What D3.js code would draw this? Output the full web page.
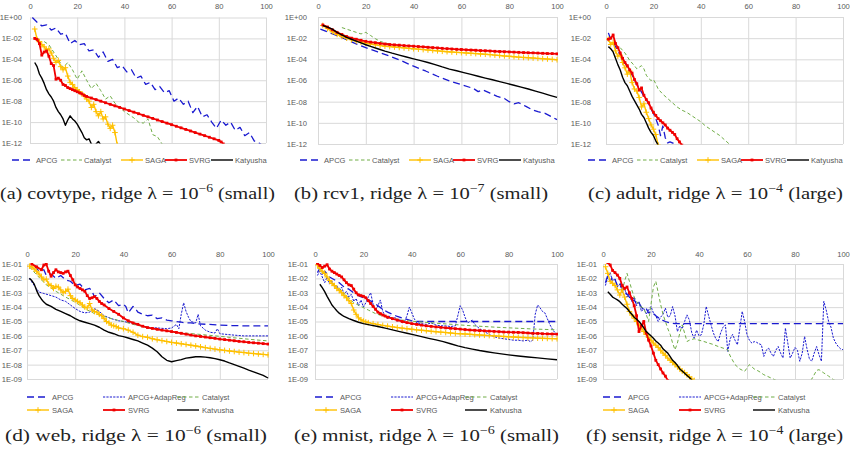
<!DOCTYPE html>
<html><head><meta charset="utf-8">
<script src="https://cdn.jsdelivr.net/npm/d3@7"></script>
<style>body{margin:0;background:#fff}svg{display:block}</style>
</head><body>
<svg id="c" width="850" height="456"></svg>
<script>
// ---------- DATA (values are log10 of objective gap) ----------
const X_TICKS = [0, 20, 40, 60, 80, 100];
const Y_TICKS_TOP = [0, -2, -4, -6, -8, -10, -12];
const Y_TICKS_BOT = [-1, -2, -3, -4, -5, -6, -7, -8, -9];
const LEGEND_TOP = ["APCG", "Catalyst", "SAGA", "SVRG", "Katyusha"];
const LEGEND_BOT = ["APCG", "APCG+AdapReg", "Catalyst", "SAGA", "SVRG", "Katyusha"];
const CAPTIONS = [
  ["(a) covtype, ridge λ = 10", "−6", " (small)"],
  ["(b) rcv1, ridge λ = 10", "−7", " (small)"],
  ["(c) adult, ridge λ = 10", "−4", " (large)"],
  ["(d) web, ridge λ = 10", "−6", " (small)"],
  ["(e) mnist, ridge λ = 10", "−6", " (small)"],
  ["(f) sensit, ridge λ = 10", "−4", " (large)"]
];

// (a) covtype
const aAPCG = [[1,0],[3,-0.45],[5,-0.8],[7,-0.7],[9,-1.2],[11,-1.0],[13,-1.6],[15,-1.5],[17,-2.5],[19,-2.2],[21,-2.6],[23,-2.5],[25,-3.2],[27,-3.1],[29,-3.8],[31,-3.3],[33,-4.2],[35,-4.0],[37,-4.8],[39,-4.6],[41,-5.2],[43,-5.0],[45,-5.8],[47,-5.6],[49,-6.4],[51,-6.2],[53,-6.9],[55,-6.6],[57,-7.2],[59,-7.0],[61,-8.0],[63,-7.7],[65,-8.3],[67,-8.0],[69,-9.1],[71,-8.5],[73,-9.5],[75,-9.3],[77,-10.0],[79,-10.6],[81,-9.8],[83,-10.3],[85,-10.0],[87,-10.8],[89,-10.5],[91,-11.3],[93,-11.0],[95,-11.8],[97,-12.0],[99,-12.3]];
const aCatalyst = [[6,-2.3],[8,-2.6],[10,-3.3],[12,-4.0],[14,-4.8],[16,-4.3],[18,-5.0],[20,-5.9],[22,-5.1],[24,-6.0],[26,-6.8],[28,-6.3],[30,-7.0],[32,-7.8],[34,-7.5],[36,-8.2],[38,-8.6],[40,-9.0],[42,-9.3],[44,-9.6],[46,-10.0],[48,-10.1],[50,-9.7],[52,-11.2],[54,-11.4],[56,-12.1]];
const aSAGA = [[2,-1.1],[3,-2.1],[4,-2.3],[5,-2.6],[6,-2.8],[7,-3.1],[8,-3.0],[9,-3.4],[10,-3.9],[11,-4.3],[12,-4.1],[13,-4.7],[14,-5.0],[15,-4.8],[16,-5.6],[17,-6.2],[18,-6.4],[19,-6.7],[20,-6.9],[21,-7.1],[22,-7.3],[23,-7.5],[24,-7.8],[25,-8.0],[26,-8.6],[27,-8.3],[28,-9.0],[29,-9.4],[30,-9.0],[31,-9.7],[32,-9.5],[33,-10.2],[34,-10.6],[35,-10.3],[36,-11.0],[37,-12.2]];
const aSVRG = [[2,-2.0],[3,-2.1],[4,-2.5],[5,-3.6],[6,-3.3],[7,-3.2],[8,-3.7],[9,-4.4],[10,-4.6],[11,-5.9],[12,-5.8],[13,-6.0],[14,-6.4],[15,-6.5],[16,-6.7],[17,-6.8],[18,-6.9],[19,-7.0],[20,-7.1],[21,-7.2],[22,-7.3],[23,-7.45],[24,-7.55],[26,-7.7],[28,-7.85],[30,-8.0],[32,-8.15],[34,-8.3],[36,-8.45],[38,-8.6],[40,-8.75],[42,-8.9],[44,-9.05],[46,-9.2],[48,-9.35],[50,-9.5],[52,-9.65],[54,-9.8],[56,-9.95],[58,-10.1],[60,-10.25],[62,-10.4],[64,-10.55],[66,-10.7],[68,-10.85],[70,-11.0],[72,-11.15],[74,-11.3],[76,-11.45],[78,-11.6],[80,-11.75],[81,-11.9],[82,-12.1]];
const aKatyusha = [[2,-4.3],[3,-4.7],[4,-5.4],[5,-5.8],[6,-6.3],[7,-6.9],[8,-7.3],[9,-7.6],[10,-8.0],[11,-8.6],[12,-9.0],[13,-9.3],[14,-9.7],[15,-10.3],[16,-9.8],[17,-9.4],[18,-9.7],[19,-9.9],[20,-10.2],[21,-10.6],[22,-11.0],[23,-11.5],[24,-11.7],[25,-11.6],[26,-12.1],[27,-12.3],[28,-12.1],[29,-11.85],[30,-12.2]];

// (b) rcv1
const bAPCG = [[1,-1.15],[5,-1.5],[10,-1.95],[15,-2.45],[20,-2.9],[25,-3.3],[30,-3.7],[35,-4.15],[40,-4.65],[45,-5.1],[50,-5.6],[55,-6.05],[60,-6.4],[65,-6.75],[67,-7.05],[69,-6.9],[72,-7.2],[75,-7.5],[78,-7.7],[80,-8.0],[82,-8.2],[84,-8.1],[87,-8.45],[90,-8.8],[92,-8.95],[95,-9.1],[98,-9.45],[100,-9.7]];
const bCatalyst = [[10,-1.0],[12,-1.15],[14,-1.3],[16,-1.45],[18,-1.6],[20,-1.45],[22,-1.75],[24,-2.05],[26,-2.3],[28,-2.45],[30,-2.55],[32,-2.7],[35,-2.85],[38,-2.95],[40,-3.05]];
const bSAGA = [[2,-0.8],[4,-1.1],[6,-1.4],[8,-1.65],[10,-1.85],[12,-2.0],[14,-2.15],[16,-2.27],[18,-2.38],[20,-2.47],[22,-2.55],[24,-2.62],[26,-2.7],[28,-2.76],[30,-2.8],[32,-2.84],[34,-2.88],[36,-2.92],[38,-2.96],[40,-3.0],[42,-3.04],[44,-3.08],[46,-3.12],[48,-3.16],[50,-3.2],[52,-3.24],[54,-3.28],[56,-3.31],[58,-3.34],[60,-3.37],[62,-3.4],[64,-3.43],[66,-3.46],[68,-3.49],[70,-3.52],[72,-3.56],[74,-3.6],[76,-3.64],[78,-3.68],[80,-3.71],[82,-3.75],[84,-3.79],[86,-3.82],[88,-3.85],[90,-3.88],[92,-3.91],[94,-3.94],[96,-3.97],[98,-4.0],[100,-4.04]];
const bSVRG = [[2,-0.75],[4,-0.95],[6,-1.2],[8,-1.45],[10,-1.65],[12,-1.85],[14,-2.0],[16,-2.1],[18,-2.2],[20,-2.3],[22,-2.37],[24,-2.43],[26,-2.5],[28,-2.55],[30,-2.6],[32,-2.63],[34,-2.66],[36,-2.7],[38,-2.73],[40,-2.76],[42,-2.79],[44,-2.82],[46,-2.86],[48,-2.89],[50,-2.92],[52,-2.96],[54,-2.99],[56,-3.02],[58,-3.05],[60,-3.07],[62,-3.1],[64,-3.12],[66,-3.14],[68,-3.17],[70,-3.19],[72,-3.21],[74,-3.24],[76,-3.26],[78,-3.28],[80,-3.3],[82,-3.32],[84,-3.34],[86,-3.36],[88,-3.38],[90,-3.39],[92,-3.41],[94,-3.43],[96,-3.45],[98,-3.46],[100,-3.48]];
const bKatyusha = [[2,-0.8],[4,-0.95],[6,-1.15],[8,-1.45],[10,-1.7],[12,-1.92],[14,-2.1],[16,-2.28],[18,-2.45],[20,-2.62],[22,-2.78],[25,-3.0],[28,-3.22],[31,-3.42],[34,-3.6],[37,-3.78],[40,-3.95],[43,-4.12],[46,-4.3],[49,-4.5],[52,-4.72],[55,-4.92],[58,-5.08],[61,-5.25],[64,-5.42],[67,-5.6],[70,-5.77],[73,-5.93],[76,-6.1],[79,-6.27],[82,-6.45],[85,-6.62],[88,-6.8],[91,-7.0],[94,-7.2],[97,-7.4],[100,-7.6]];

// (c) adult
const cAPCG = [[1,-1.5],[2,-2.1],[3,-2.4],[4,-2.8],[5,-3.2],[6,-3.6],[7,-4.1],[8,-4.3],[9,-4.8],[10,-5.2],[11,-5.5],[12,-5.9],[13,-6.4],[14,-6.7],[15,-7.1],[16,-7.5],[17,-7.8],[18,-8.2],[19,-8.7],[20,-9.1],[21,-9.6],[22,-10.2],[23,-11.2],[24,-10.3],[25,-11.4],[26,-11.9],[27,-11.8],[28,-11.9],[29,-12.0],[30,-12.2]];
const cCatalyst = [[6,-2.9],[8,-3.4],[10,-4.1],[12,-4.6],[13,-4.9],[14,-4.75],[15,-4.6],[16,-4.9],[17,-5.5],[18,-5.8],[19,-6.0],[20,-5.9],[21,-6.3],[22,-6.8],[24,-7.3],[26,-7.7],[28,-8.1],[30,-8.5],[32,-8.8],[34,-9.0],[36,-9.3],[38,-9.6],[40,-9.9],[42,-10.3],[44,-10.6],[46,-10.9],[48,-11.2],[50,-11.6],[52,-12.0]];
const cSAGA = [[1,-2.1],[2,-2.6],[3,-2.4],[4,-3.2],[5,-3.7],[6,-3.6],[7,-4.3],[8,-4.8],[9,-5.4],[10,-5.1],[11,-6.2],[12,-6.8],[13,-7.0],[14,-7.6],[15,-8.5],[16,-8.2],[17,-9.0],[18,-9.6],[19,-10.2],[20,-10.6],[21,-11.1],[22,-12.1]];
const cSVRG = [[1,-2.1],[2,-2.0],[3,-1.7],[4,-2.5],[5,-2.9],[6,-3.4],[7,-3.9],[8,-4.3],[9,-4.6],[10,-5.0],[11,-5.3],[12,-5.9],[13,-6.3],[14,-6.9],[15,-6.7],[16,-7.4],[17,-7.8],[18,-8.1],[19,-8.6],[20,-9.0],[21,-9.3],[22,-9.6],[23,-9.8],[24,-10.0],[25,-10.2],[26,-10.5],[27,-10.7],[28,-10.9],[29,-11.1],[30,-11.5],[31,-11.8],[32,-12.1]];
const cKatyusha = [[1,-2.8],[2,-3.0],[3,-3.3],[4,-3.9],[5,-4.5],[6,-5.0],[7,-5.7],[8,-6.2],[9,-6.5],[10,-7.0],[11,-7.5],[12,-7.9],[13,-8.3],[14,-8.7],[15,-9.2],[16,-9.5],[17,-10.0],[18,-10.5],[19,-10.9],[20,-11.2],[21,-11.7],[22,-12.1]];

// (d) web
const dAPCG = [[3,-1.1],[5,-1.5],[7,-1.4],[8,-1.8],[10,-1.7],[12,-2.0],[14,-1.8],[16,-2.1],[18,-2.2],[20,-2.5],[22,-2.4],[24,-2.8],[26,-2.7],[27,-2.9],[28,-3.3],[30,-3.0],[32,-3.4],[34,-3.7],[36,-3.5],[38,-3.9],[40,-3.8],[41,-3.95],[42,-4.4],[44,-3.95],[45,-4.1],[46,-4.35],[48,-4.5],[50,-4.6],[52,-4.55],[54,-4.8],[56,-4.75],[58,-4.9],[60,-4.95],[62,-5.0],[64,-5.05],[66,-5.1],[68,-5.1],[70,-5.15],[75,-5.2],[80,-5.25],[85,-5.28],[90,-5.3],[95,-5.3],[100,-5.3]];
const dAdapReg = [[1,-2.0],[3,-2.5],[5,-2.95],[7,-3.05],[10,-3.2],[12,-3.3],[14,-3.5],[16,-3.6],[18,-3.85],[20,-4.1],[22,-4.3],[24,-4.4],[26,-4.35],[28,-4.1],[30,-4.3],[32,-4.6],[35,-4.8],[38,-4.95],[40,-5.0],[43,-5.1],[46,-5.25],[50,-5.4],[54,-5.45],[58,-5.5],[60,-5.45],[62,-5.2],[63,-5.5],[64,-4.5],[65,-3.7],[66,-4.3],[67,-4.7],[68,-5.0],[70,-5.1],[71,-4.5],[72,-5.3],[74,-5.6],[76,-5.75],[78,-5.8],[79,-5.5],[80,-5.85],[83,-5.9],[86,-5.95],[90,-6.0],[95,-6.0],[100,-6.0]];
const dCatalyst = [[1,-1.2],[4,-1.75],[8,-2.45],[12,-2.9],[16,-3.3],[20,-3.65],[24,-4.1],[28,-4.45],[32,-4.65],[36,-4.85],[40,-5.0],[44,-5.2],[48,-5.35],[52,-5.5],[56,-5.6],[60,-5.7],[65,-5.8],[70,-5.87],[75,-5.95],[80,-6.03],[85,-6.12],[90,-6.2],[95,-6.28],[100,-6.35]];
const dSAGA = [[1,-1.15],[2,-1.2],[3,-1.35],[4,-1.5],[5,-1.7],[6,-1.9],[7,-2.1],[8,-2.05],[9,-2.4],[10,-2.5],[11,-2.7],[12,-2.55],[13,-2.6],[14,-2.8],[15,-3.0],[16,-2.9],[17,-2.75],[18,-3.2],[19,-3.4],[20,-3.5],[21,-3.6],[22,-3.7],[23,-3.85],[24,-4.0],[25,-4.05],[26,-3.75],[27,-4.2],[28,-4.3],[29,-4.35],[30,-4.5],[31,-4.6],[32,-4.8],[33,-5.0],[34,-5.1],[35,-5.25],[36,-5.3],[37,-5.35],[38,-5.45],[40,-5.5],[42,-5.6],[44,-5.75],[46,-5.95],[48,-6.05],[50,-6.1],[52,-6.2],[54,-6.27],[56,-6.33],[58,-6.39],[60,-6.45],[62,-6.5],[64,-6.55],[66,-6.6],[68,-6.65],[70,-6.7],[72,-6.76],[74,-6.82],[76,-6.87],[78,-6.92],[80,-6.97],[82,-7.01],[84,-7.05],[86,-7.09],[88,-7.13],[90,-7.16],[92,-7.2],[94,-7.23],[96,-7.26],[98,-7.29],[100,-7.32]];
const dSVRG = [[2,-1.0],[4,-1.2],[6,-1.4],[7,-1.07],[8,-1.0],[9,-1.5],[10,-1.85],[11,-1.6],[12,-1.4],[13,-1.55],[14,-1.6],[15,-1.65],[16,-1.55],[17,-1.5],[18,-1.8],[19,-2.1],[20,-2.45],[21,-2.6],[22,-2.7],[23,-2.8],[24,-2.9],[25,-3.2],[26,-3.4],[27,-3.35],[28,-3.27],[29,-3.4],[30,-3.6],[31,-3.75],[32,-3.85],[34,-4.1],[36,-4.3],[38,-4.5],[40,-4.75],[42,-4.95],[44,-5.1],[46,-5.2],[48,-5.33],[50,-5.42],[52,-5.48],[54,-5.54],[56,-5.6],[58,-5.65],[60,-5.7],[62,-5.76],[64,-5.82],[66,-5.88],[68,-5.94],[70,-6.0],[72,-6.04],[74,-6.08],[76,-6.13],[78,-6.17],[80,-6.22],[82,-6.26],[84,-6.3],[86,-6.34],[88,-6.38],[90,-6.41],[92,-6.45],[94,-6.48],[96,-6.51],[98,-6.54],[100,-6.57]];
const dKatyusha = [[1,-2.0],[2,-2.15],[3,-2.4],[4,-2.85],[5,-3.2],[6,-3.45],[7,-3.65],[8,-3.8],[10,-3.95],[12,-4.15],[14,-4.3],[16,-4.45],[18,-4.6],[20,-4.8],[22,-4.95],[24,-5.05],[26,-5.15],[28,-5.25],[30,-5.4],[32,-5.6],[34,-5.75],[36,-5.85],[38,-5.98],[40,-6.05],[42,-6.15],[44,-6.25],[46,-6.35],[48,-6.5],[50,-6.65],[52,-6.85],[54,-7.1],[56,-7.45],[58,-7.7],[60,-7.8],[62,-7.72],[64,-7.65],[66,-7.55],[68,-7.5],[70,-7.45],[72,-7.45],[74,-7.48],[76,-7.52],[78,-7.58],[80,-7.66],[82,-7.75],[84,-7.88],[86,-8.0],[88,-8.12],[90,-8.25],[92,-8.38],[94,-8.5],[96,-8.62],[98,-8.75],[100,-8.93]];

// (e) mnist
const eAPCG = [[1,-1.6],[2,-1.3],[3,-1.7],[4,-1.5],[6,-1.9],[8,-2.1],[10,-2.3],[12,-2.6],[14,-2.75],[16,-3.0],[18,-3.2],[20,-3.35],[22,-3.5],[24,-3.65],[26,-3.9],[28,-4.15],[30,-4.35],[32,-4.5],[34,-4.65],[36,-4.75],[38,-4.85],[40,-4.95],[42,-5.0],[100,-5.0]];
const eAdapReg = [[1,-1.8],[2,-1.5],[3,-1.9],[4,-2.3],[5,-1.9],[6,-2.4],[7,-2.2],[8,-2.6],[9,-2.5],[10,-2.9],[11,-2.6],[12,-3.1],[13,-2.9],[14,-3.3],[15,-3.1],[16,-3.6],[17,-3.4],[18,-3.9],[19,-3.5],[20,-4.0],[21,-3.7],[22,-3.3],[23,-3.0],[24,-3.8],[25,-4.2],[26,-3.9],[27,-3.5],[28,-4.3],[29,-4.6],[30,-4.8],[31,-4.6],[32,-4.9],[33,-4.7],[34,-5.0],[35,-4.8],[36,-5.1],[37,-5.0],[38,-4.6],[39,-4.0],[40,-4.4],[41,-4.8],[42,-5.1],[44,-5.15],[46,-5.2],[48,-5.1],[50,-5.25],[52,-5.3],[54,-5.3],[56,-5.35],[58,-5.3],[59,-4.6],[60,-3.9],[61,-4.2],[62,-4.7],[63,-5.1],[64,-5.0],[65,-4.9],[66,-5.2],[68,-5.5],[70,-5.7],[72,-5.9],[74,-6.05],[76,-6.15],[78,-6.2],[80,-6.25],[82,-6.3],[84,-6.3],[86,-6.35],[88,-6.3],[89,-6.4],[90,-6.3],[91,-4.5],[92,-3.85],[93,-4.05],[94,-4.3],[95,-4.4],[96,-4.8],[97,-5.2],[98,-5.5],[99,-5.75],[100,-5.9]];
const eCatalyst = [[1,-1.2],[3,-1.6],[5,-1.95],[7,-2.3],[10,-2.7],[13,-3.2],[16,-3.7],[19,-3.95],[22,-4.2],[25,-4.45],[28,-4.62],[32,-4.78],[36,-4.9],[40,-4.98],[45,-5.05],[50,-5.12],[55,-5.18],[60,-5.24],[65,-5.3],[70,-5.35],[75,-5.4],[80,-5.44],[85,-5.48],[90,-5.52],[95,-5.55],[100,-5.58]];
const eSAGA = [[1,-1.07],[2,-1.3],[3,-1.5],[4,-1.65],[5,-1.9],[6,-2.15],[7,-2.35],[8,-2.5],[9,-2.7],[10,-2.85],[11,-3.0],[12,-3.2],[13,-3.35],[14,-3.55],[15,-3.75],[16,-4.2],[17,-4.5],[18,-4.75],[19,-4.88],[20,-4.97],[21,-5.03],[22,-5.08],[24,-5.15],[26,-5.21],[28,-5.27],[30,-5.32],[32,-5.37],[34,-5.42],[36,-5.46],[38,-5.5],[40,-5.54],[42,-5.58],[44,-5.61],[46,-5.64],[48,-5.68],[50,-5.71],[52,-5.74],[54,-5.77],[56,-5.8],[58,-5.83],[60,-5.85],[62,-5.87],[64,-5.89],[66,-5.92],[68,-5.94],[70,-5.96],[72,-5.98],[74,-6.0],[76,-6.02],[78,-6.04],[80,-6.06],[82,-6.08],[84,-6.1],[86,-6.11],[88,-6.13],[90,-6.14],[92,-6.16],[94,-6.17],[96,-6.18],[98,-6.19],[100,-6.2]];
const eSVRG = [[1,-0.95],[2,-1.1],[3,-1.25],[4,-1.15],[5,-1.05],[6,-1.35],[7,-1.5],[8,-1.6],[9,-1.7],[10,-1.8],[11,-1.9],[12,-2.1],[13,-2.3],[14,-2.45],[15,-2.5],[16,-2.75],[17,-3.0],[18,-3.15],[19,-3.2],[20,-3.25],[21,-3.35],[22,-3.55],[23,-3.75],[24,-3.95],[25,-4.15],[26,-4.35],[27,-4.45],[28,-4.55],[29,-4.62],[30,-4.7],[32,-4.8],[34,-4.9],[36,-5.0],[38,-5.08],[40,-5.15],[42,-5.2],[44,-5.25],[46,-5.3],[48,-5.34],[50,-5.38],[52,-5.41],[54,-5.44],[56,-5.47],[58,-5.5],[60,-5.53],[62,-5.56],[64,-5.59],[66,-5.61],[68,-5.63],[70,-5.65],[72,-5.67],[74,-5.69],[76,-5.71],[78,-5.73],[80,-5.74],[82,-5.75],[84,-5.76],[86,-5.78],[88,-5.8],[90,-5.82],[92,-5.83],[94,-5.85],[96,-5.86],[98,-5.87],[100,-5.88]];
const eKatyusha = [[2,-2.41],[3,-2.65],[4,-2.92],[5,-3.25],[6,-3.55],[7,-3.85],[8,-4.05],[9,-4.25],[10,-4.42],[11,-4.54],[12,-4.65],[14,-4.8],[16,-4.93],[18,-5.05],[20,-5.15],[23,-5.25],[26,-5.35],[29,-5.46],[32,-5.58],[35,-5.7],[38,-5.82],[41,-5.93],[44,-6.05],[47,-6.17],[50,-6.28],[53,-6.4],[56,-6.55],[59,-6.7],[62,-6.82],[65,-6.92],[68,-7.02],[71,-7.1],[74,-7.18],[77,-7.25],[80,-7.32],[84,-7.4],[88,-7.47],[92,-7.53],[96,-7.6],[100,-7.66]];

// (f) sensit
const fAPCG = [[1,-2.3],[2,-1.8],[3,-2.2],[4,-1.9],[5,-2.1],[6,-2.5],[7,-2.3],[8,-2.7],[9,-2.9],[10,-3.1],[11,-3.3],[12,-3.6],[13,-3.5],[14,-3.8],[15,-3.7],[16,-4.0],[17,-4.2],[18,-4.1],[19,-4.4],[20,-4.3],[22,-4.6],[24,-4.85],[26,-5.0],[28,-5.1],[30,-5.15],[100,-5.15]];
const fAdapReg = [[1,-2.5],[2,-1.9],[3,-1.6],[4,-2.2],[5,-2.0],[6,-2.6],[7,-2.4],[8,-3.0],[9,-2.7],[10,-3.3],[11,-3.0],[12,-3.6],[13,-3.3],[14,-3.9],[15,-3.6],[16,-4.3],[17,-4.1],[18,-4.5],[19,-4.2],[20,-3.95],[21,-4.4],[22,-4.6],[23,-5.0],[24,-4.7],[25,-4.5],[26,-4.07],[27,-4.7],[28,-4.6],[29,-3.96],[30,-4.6],[31,-5.7],[32,-5.3],[33,-5.5],[34,-5.0],[35,-4.54],[36,-4.9],[37,-5.8],[38,-6.16],[39,-5.6],[40,-6.0],[41,-5.92],[42,-5.2],[43,-3.96],[44,-4.6],[45,-5.23],[46,-5.8],[47,-6.2],[48,-6.4],[49,-5.8],[50,-5.4],[51,-5.23],[52,-7.08],[53,-6.2],[54,-5.9],[55,-6.3],[56,-6.62],[57,-5.5],[58,-4.3],[59,-5.0],[60,-5.92],[61,-6.3],[62,-6.5],[63,-6.4],[64,-6.45],[65,-6.55],[66,-6.62],[67,-7.43],[68,-7.0],[69,-6.85],[70,-7.2],[71,-7.43],[72,-7.0],[73,-6.74],[74,-7.2],[75,-7.54],[76,-5.46],[77,-6.5],[78,-7.54],[79,-7.2],[80,-6.8],[81,-7.0],[82,-7.77],[83,-7.2],[84,-6.04],[85,-6.9],[86,-7.6],[87,-7.77],[88,-7.2],[89,-6.74],[90,-7.3],[91,-7.77],[92,-3.6],[93,-4.2],[94,-5.0],[95,-5.4],[96,-6.16],[97,-6.5],[98,-6.74],[99,-6.9],[100,-6.96]];
const fCatalyst = [[8,-2.9],[9,-2.2],[10,-1.65],[11,-2.2],[12,-2.8],[13,-3.3],[14,-3.6],[15,-3.8],[16,-4.0],[17,-4.07],[18,-4.5],[19,-5.0],[20,-3.8],[21,-2.6],[22,-2.2],[23,-3.0],[24,-3.8],[25,-4.5],[26,-5.0],[27,-5.5],[28,-5.9],[29,-6.5],[30,-6.97],[31,-6.5],[32,-5.8],[33,-5.23],[34,-5.8],[35,-6.39],[36,-6.3],[38,-6.2],[40,-6.3],[42,-6.39],[44,-6.5],[46,-6.6],[48,-6.74],[50,-6.85],[52,-6.97],[53,-7.4],[55,-8.0],[57,-8.3],[59,-8.47],[61,-8.0],[63,-8.3],[65,-8.47],[67,-8.7],[70,-8.93],[73,-9.16],[76,-9.4],[80,-9.6],[84,-9.5],[87,-9.0],[89,-8.4],[90,-8.35],[92,-8.58],[94,-8.8],[96,-9.05],[98,-9.2],[100,-9.3]];
const fSAGA = [[1,-1.19],[2,-1.65],[3,-2.2],[4,-2.34],[5,-2.5],[6,-2.8],[7,-3.16],[8,-2.8],[9,-3.3],[10,-3.8],[11,-4.3],[12,-4.55],[13,-4.77],[14,-5.0],[15,-5.23],[16,-5.45],[17,-5.7],[18,-5.9],[19,-6.1],[20,-6.3],[21,-6.5],[22,-6.65],[23,-6.8],[24,-7.0],[25,-7.2],[26,-7.35],[27,-7.55],[28,-7.7],[29,-7.85],[30,-8.0],[31,-8.15],[32,-8.3],[33,-8.45],[34,-8.55],[35,-8.7],[36,-8.85],[37,-9.0],[38,-9.1]];
const fSVRG = [[2,-0.9],[3,-1.07],[4,-1.45],[5,-1.6],[6,-1.77],[7,-2.0],[8,-2.5],[9,-2.7],[10,-2.6],[11,-3.0],[12,-3.4],[13,-3.9],[14,-4.6],[15,-5.7],[16,-5.3],[17,-5.0],[18,-5.8],[19,-6.3],[20,-6.7],[21,-7.2],[22,-7.7],[23,-8.0],[24,-8.3],[25,-8.58],[26,-8.8],[27,-9.1]];
const fKatyusha = [[2,-2.93],[3,-3.1],[4,-3.3],[5,-3.4],[6,-3.5],[7,-3.62],[8,-3.8],[9,-3.95],[10,-4.1],[11,-4.3],[12,-4.5],[13,-4.7],[14,-4.85],[15,-5.0],[16,-5.2],[17,-5.45],[18,-5.7],[19,-5.85],[20,-6.0],[21,-6.17],[22,-6.35],[23,-6.5],[24,-6.65],[25,-6.9],[26,-7.05],[27,-7.2],[28,-7.45],[29,-7.7],[30,-7.85],[31,-8.05],[32,-8.3],[33,-8.45],[34,-8.6],[35,-8.75],[36,-8.9],[37,-9.07],[38,-9.2]];

// ---------- STYLE / LAYOUT ----------
const STY = {
  "APCG": {c:"#1a1ad0", dash:"7,4", w:1.3},
  "APCG+AdapReg": {c:"#1a1ad0", dash:"2.2,1.2", w:1},
  "Catalyst": {c:"#70AD47", dash:"3.5,2.5", w:1},
  "SAGA": {c:"#FFC000", w:1.4, m:"plus"},
  "SVRG": {c:"#F00000", w:1.8, m:"sq"},
  "Katyusha": {c:"#000000", w:1.4}
};
const panels = [
  {box:[30,17.5,266,143], ys:Y_TICKS_TOP, lab:8, xpad:8.5, leg:160, top:true,
   series:{"APCG":aAPCG,"Catalyst":aCatalyst,"SAGA":aSAGA,"SVRG":aSVRG,"Katyusha":aKatyusha}, cap:[0,275,199]},
  {box:[318,17,557,144], ys:Y_TICKS_TOP, lab:11, xpad:8, leg:160, top:true,
   series:{"APCG":bAPCG,"Catalyst":bCatalyst,"SAGA":bSAGA,"SVRG":bSVRG,"Katyusha":bKatyusha}, cap:[294,254,199]},
  {box:[606,17,843,144], ys:Y_TICKS_TOP, lab:15, xpad:8, leg:160, top:true,
   series:{"APCG":cAPCG,"Catalyst":cCatalyst,"SAGA":cSAGA,"SVRG":cSVRG,"Katyusha":cKatyusha}, cap:[588,255,199]},
  {box:[27,264,268,379], ys:Y_TICKS_BOT, lab:5, xpad:7, leg:397, top:false,
   series:{"APCG":dAPCG,"APCG+AdapReg":dAdapReg,"Catalyst":dCatalyst,"SAGA":dSAGA,"SVRG":dSVRG,"Katyusha":dKatyusha}, cap:[5,262,441]},
  {box:[315,264,557,379], ys:Y_TICKS_BOT, lab:7, xpad:7, leg:397, top:false,
   series:{"APCG":eAPCG,"APCG+AdapReg":eAdapReg,"Catalyst":eCatalyst,"SAGA":eSAGA,"SVRG":eSVRG,"Katyusha":eKatyusha}, cap:[294,265,441]},
  {box:[603,264,843,379], ys:Y_TICKS_BOT, lab:6, xpad:7, leg:397, top:false,
   series:{"APCG":fAPCG,"APCG+AdapReg":fAdapReg,"Catalyst":fCatalyst,"SAGA":fSAGA,"SVRG":fSVRG,"Katyusha":fKatyusha}, cap:[586,257,441]}
];

const svg = d3.select("#c");
const defs = svg.append("defs");
const TICKFONT = "'Liberation Sans', Arial, sans-serif";
const fmtE = e => "1E" + (e >= 0 ? "+" : "-") + String(Math.abs(e)).padStart(2, "0");

function marker(g, kind, px, py, color) {
  if (kind === "plus") {
    g.append("path").attr("d", `M${px-2.8},${py}h5.6M${px},${py-2.8}v5.6`)
      .attr("stroke", color).attr("stroke-width", 1).attr("fill", "none");
  } else if (kind === "sq") {
    g.append("rect").attr("x", px-1.4).attr("y", py-1.4).attr("width", 2.8).attr("height", 2.8)
      .attr("fill", color);
  }
}

panels.forEach((p, i) => {
  const [L, T, R, B] = p.box;
  const ys = p.ys;
  const x = d3.scaleLinear().domain([0, 100]).range([L, R]);
  const y = d3.scaleLog().domain([Math.pow(10, d3.min(ys)), Math.pow(10, d3.max(ys))]).range([B, T]);

  const gx = svg.append("g").attr("transform", `translate(0,${T})`)
    .call(d3.axisTop(x).tickValues(X_TICKS).tickSize(-(B - T)).tickPadding(p.xpad).tickFormat(d3.format("d")));
  gx.select(".domain").remove();
  gx.selectAll("line").attr("stroke", "#d9d9d9");
  gx.selectAll("text").attr("fill", "#595959").style("font-family", TICKFONT).style("font-size", "7.6px");

  const gy = svg.append("g").attr("transform", `translate(${L},0)`)
    .call(d3.axisLeft(y).tickValues(ys.map(e => Math.pow(10, e))).tickSize(-(R - L)).tickPadding(p.lab)
      .tickFormat(v => fmtE(Math.round(Math.log10(v)))));
  gy.select(".domain").remove();
  gy.selectAll("line").attr("stroke", "#d9d9d9");
  gy.selectAll("text").attr("fill", "#595959").style("font-family", TICKFONT).style("font-size", "7.6px");

  const cid = "clip" + i;
  defs.append("clipPath").attr("id", cid).append("rect").attr("x", L).attr("y", T - 1).attr("width", R - L + 1).attr("height", B - T + 1.5);
  const pg = svg.append("g").attr("clip-path", `url(#${cid})`);
  const line = d3.line().x(d => x(d[0])).y(d => y(Math.pow(10, d[1])));

  Object.keys(p.series).forEach(name => {
    const s = STY[name], data = p.series[name];
    pg.append("path").attr("d", line(data)).attr("fill", "none").attr("stroke", s.c)
      .attr("stroke-width", s.w).attr("stroke-dasharray", s.dash || null).attr("stroke-linejoin", "round");
    if (s.m) data.forEach(d => marker(pg, s.m, x(d[0]), y(Math.pow(10, d[1])), s.c));
  });

  const lg = svg.append("g");
  let items;
  if (p.top) {
    const cols = [[-18, 3, 6], [31, 52, 54], [91, 113, 115], [135, 157, 159], [181, 203, 205]];
    items = LEGEND_TOP.map((n, k) => ({n, x0: L + cols[k][0], x1: L + cols[k][1], tx: L + cols[k][2], y: p.leg}));
  } else {
    const cols = [[0, 22, 25], [76, 98, 101], [150, 172, 175]];
    items = LEGEND_BOT.map((n, k) => ({n, x0: L + cols[k % 3][0], x1: L + cols[k % 3][1], tx: L + cols[k % 3][2], y: p.leg + (k < 3 ? 0 : 13)}));
  }
  items.forEach(it => {
    const s = STY[it.n];
    lg.append("line").attr("x1", it.x0).attr("x2", it.x1).attr("y1", it.y).attr("y2", it.y)
      .attr("stroke", s.c).attr("stroke-width", s.w).attr("stroke-dasharray", s.dash || null);
    if (s.m) marker(lg, s.m, (it.x0 + it.x1) / 2, it.y, s.c);
    lg.append("text").attr("x", it.tx).attr("y", it.y + 2.8).text(it.n)
      .attr("fill", "#595959").style("font-family", TICKFONT).style("font-size", "7.6px");
  });
});

svg.append("rect").attr("x", 0).attr("y", 413).attr("width", 850).attr("height", 43).attr("fill", "#fff");

panels.forEach((p, i) => {
  const [cx, cw, cy] = p.cap;
  const c = CAPTIONS[i];
  const t = svg.append("text").attr("x", cx).attr("y", cy)
    .style("font-family", "'Liberation Serif', 'DejaVu Serif', serif").style("font-size", "17px").attr("fill", "#222");
  t.append("tspan").text(c[0]);
  t.append("tspan").attr("dy", -7).style("font-size", "11.5px").text(c[1]);
  t.append("tspan").attr("dy", 7).text(c[2]);
  t.attr("textLength", cw).attr("lengthAdjust", "spacingAndGlyphs");
});
</script>
</body></html>
